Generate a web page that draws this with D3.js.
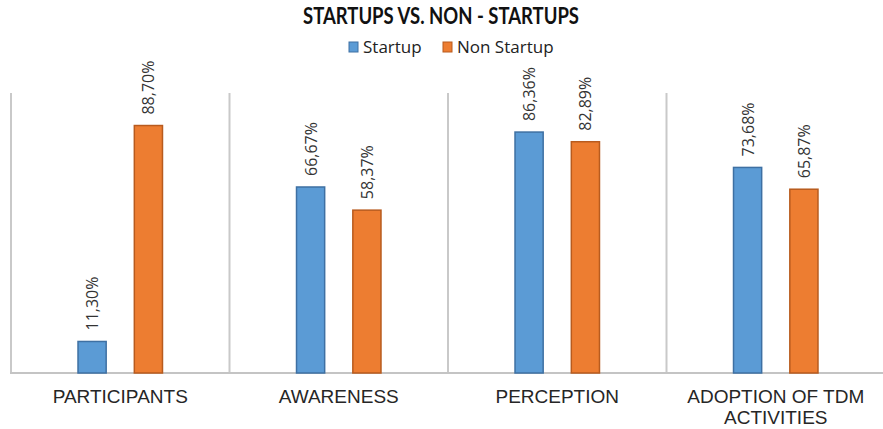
<!DOCTYPE html>
<html><head><meta charset="utf-8">
<script src="https://cdn.jsdelivr.net/npm/d3@7"></script>
<style>body{margin:0;background:#fff}svg{display:block}</style>
</head><body>
<svg id="chart" width="883" height="429"></svg>
<script>
const categories = ["PARTICIPANTS", "AWARENESS", "PERCEPTION", "ADOPTION OF TDM ACTIVITIES"];
const categoryLines = [["PARTICIPANTS"], ["AWARENESS"], ["PERCEPTION"], ["ADOPTION OF TDM", "ACTIVITIES"]];
const seriesNames = ["Startup", "Non Startup"];
const startupValues = [11.30, 66.67, 86.36, 73.68];
const nonStartupValues = [88.70, 58.37, 82.89, 65.87];
const valueLabelsStartup = ["11,30%", "66,67%", "86,36%", "73,68%"];
const valueLabelsNon = ["88,70%", "58,37%", "82,89%", "65,87%"];
const colors = {fill: ["#5B9BD5", "#ED7D31"], stroke: ["#3E70A3", "#B85B1E"]};

(function(){
const svg = d3.select("#chart");
const pLeft = 11, pRight = 885, pTop = 94, pBottom = 373;

const x0 = d3.scaleBand().domain(categories).range([pLeft, pRight]).padding(0);
const x1 = d3.scaleBand().domain(seriesNames).range([0, x0.bandwidth()]).paddingInner(0.5).paddingOuter(1.19);
const y = d3.scaleLinear().domain([0, 100]).range([pBottom, pTop]);

// separators
const seps = categories.map(c => x0(c)).concat([pRight]);
svg.append("g").selectAll("line").data(seps).join("line")
  .attr("x1", d => d).attr("x2", d => d).attr("y1", pTop - 1).attr("y2", pBottom)
  .attr("stroke", "#C9C9C9").attr("stroke-width", 2);
svg.append("line").attr("x1", pLeft - 1).attr("x2", pRight).attr("y1", pBottom).attr("y2", pBottom)
  .attr("stroke", "#C4C4C4").attr("stroke-width", 2);

const rows = categories.map((c, i) => ({c, vals: [
  {s: seriesNames[0], v: startupValues[i], lab: valueLabelsStartup[i], k: 0},
  {s: seriesNames[1], v: nonStartupValues[i], lab: valueLabelsNon[i], k: 1}
]}));

const g = svg.append("g").selectAll("g").data(rows).join("g")
  .attr("transform", d => `translate(${x0(d.c)},0)`);
g.selectAll("rect").data(d => d.vals).join("rect")
  .attr("x", d => x1(d.s)).attr("width", x1.bandwidth())
  .attr("y", d => y(d.v)).attr("height", d => pBottom - y(d.v))
  .attr("fill", d => colors.fill[d.k]).attr("stroke", d => colors.stroke[d.k]).attr("stroke-width", 1.5);
g.selectAll("text").data(d => d.vals).join("text")
  .attr("transform", d => `translate(${x1(d.s) + x1.bandwidth()/2 + 6},${y(d.v) - 11}) rotate(-90)`)
  .attr("font-family", "Open Sans, sans-serif").attr("font-size", 16).attr("fill", "#333")
  .text(d => d.lab);

// category labels
const cl = svg.append("g").selectAll("text").data(categories).join("text")
  .attr("x", c => x0(c) + x0.bandwidth()/2).attr("y", 403)
  .attr("text-anchor", "middle").attr("font-family", "Liberation Sans, Arial, sans-serif")
  .attr("font-size", 19).attr("fill", "#262626");
cl.selectAll("tspan").data((c, i) => categoryLines[i]).join("tspan")
  .attr("x", function(){ return this.parentNode.getAttribute("x"); })
  .attr("dy", (d, i) => i === 0 ? 0 : 21).text(d => d);

// title
svg.append("text").attr("x", 441).attr("y", 24).attr("text-anchor", "middle")
  .attr("font-family", "Lato, sans-serif").attr("font-weight", "bold").attr("font-size", 22)
  .attr("textLength", 276).attr("lengthAdjust", "spacingAndGlyphs")
  .attr("fill", "#111").text("STARTUPS VS. NON - STARTUPS");

// legend
const leg = [{name: seriesNames[0], x: 349, k: 0}, {name: seriesNames[1], x: 443, k: 1}];
const lg = svg.append("g").selectAll("g").data(leg).join("g").attr("transform", d => `translate(${d.x},42)`);
lg.append("rect").attr("width", 9).attr("height", 10).attr("fill", d => colors.fill[d.k]).attr("stroke", d => colors.stroke[d.k]).attr("stroke-width", 1);
lg.append("text").attr("x", 14).attr("y", 11).attr("font-family", "Open Sans, sans-serif").attr("font-size", 17)
  .attr("fill", "#222").text(d => d.name);
})();
</script>
</body></html>
